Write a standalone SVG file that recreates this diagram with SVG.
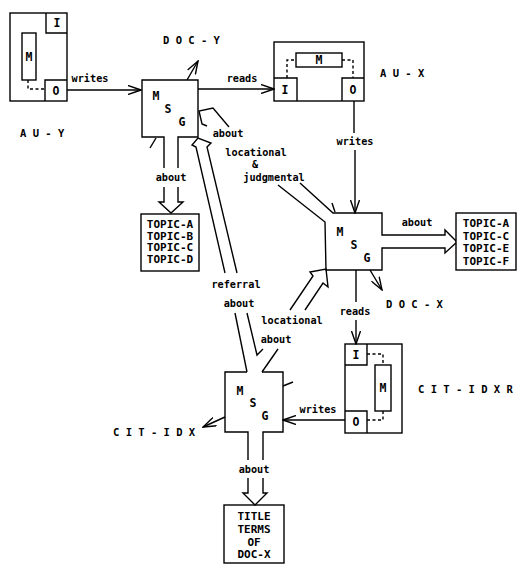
<svg xmlns="http://www.w3.org/2000/svg" width="524" height="572" viewBox="0 0 524 572">
<style>
.ln{fill:none;stroke:#000;stroke-width:1.4;stroke-linejoin:miter}
.ds{fill:none;stroke:#000;stroke-width:1.4;stroke-dasharray:3,2.5}
.bx{fill:#fff;stroke:#000;stroke-width:1.4}
text{font-family:"DejaVu Sans Mono","Liberation Mono",monospace;font-weight:bold;fill:#000}
.lb{font-size:10.2px;text-anchor:middle}
.sp{font-size:10.5px}
.tp{font-size:11px;text-anchor:middle}
.msg{font-size:11.5px;text-anchor:middle}
</style>
<defs>
<marker id="ah" markerWidth="14" markerHeight="10" refX="13" refY="5" orient="auto" markerUnits="userSpaceOnUse">
<path d="M0,0.5 L13,5 L0,9.5" fill="none" stroke="#000" stroke-width="1.4"/>
</marker>
</defs>

<g id="AU-Y">
<rect class="bx" x="10" y="13" width="57" height="88"/>
<path class="ln" d="M46,13 V33 H67"/>
<path class="ln" d="M45,101 V80 H67"/>
<rect class="bx" x="22" y="33" width="14" height="47"/>
<path class="ds" d="M28,80 V89 H45"/>
<text class="msg" x="57" y="27">I</text>
<text class="msg" x="56" y="95">O</text>
<text class="msg" x="29" y="61">M</text>
<text class="sp" x="20" y="137">A U - Y</text>
</g>

<g id="AU-X">
<rect class="bx" x="274" y="42" width="90" height="59"/>
<path class="ln" d="M274,78 H297 V101"/>
<path class="ln" d="M364,78 H342 V101"/>
<rect class="bx" x="296" y="53" width="46" height="14"/>
<path class="ds" d="M287,78 V60 H296"/>
<path class="ds" d="M342,60 H353 V78"/>
<text class="msg" x="285" y="94">I</text>
<text class="msg" x="353" y="94">O</text>
<text class="msg" x="319" y="64">M</text>
<text class="sp" x="380" y="77">A U - X</text>
</g>

<g id="CIT-IDXR">
<rect class="bx" x="345" y="344" width="57" height="89"/>
<path class="ln" d="M345,365 H367 V344"/>
<path class="ln" d="M345,411 H367 V433"/>
<rect class="bx" x="375" y="365" width="16" height="46"/>
<path class="ds" d="M367,354 H383 V365"/>
<path class="ds" d="M367,420 H383 V411"/>
<text class="msg" x="356" y="359">I</text>
<text class="msg" x="356" y="426">O</text>
<text class="msg" x="383" y="392">M</text>
<text class="sp" x="418" y="393">C I T - I D X R</text>
</g>

<g id="MSG-Y">
<path class="ln" d="M164,168 V137 H142 V80 H198 V137 H178 V168"/>
<text class="msg" x="156" y="100">M</text>
<text class="msg" x="168" y="113">S</text>
<text class="msg" x="182" y="126">G</text>
<text class="sp" x="163" y="44">D O C - Y</text>
</g>

<g id="TOPIC-ABCD">
<rect class="bx" x="141" y="214" width="58" height="57"/>
<text class="tp" x="170" y="228">TOPIC-A</text>
<text class="tp" x="170" y="239.5">TOPIC-B</text>
<text class="tp" x="170" y="251">TOPIC-C</text>
<text class="tp" x="170" y="262.5">TOPIC-D</text>
</g>

<g id="MSG-X">
<path class="ln" d="M300,183 L333,213 H382 V235 H445 V230 L457,242 L445,253 V248 H382 V270 H326 L325,222 L278,185"/>
<text class="msg" x="340" y="236">M</text>
<text class="msg" x="354" y="249">S</text>
<text class="msg" x="367" y="262">G</text>
<text class="sp" x="386" y="308">D O C - X</text>
</g>

<g id="TOPIC-ACEF">
<rect class="bx" x="456" y="213" width="60" height="57"/>
<text class="tp" x="486" y="227">TOPIC-A</text>
<text class="tp" x="486" y="239.7">TOPIC-C</text>
<text class="tp" x="486" y="252.3">TOPIC-E</text>
<text class="tp" x="486" y="265">TOPIC-F</text>
</g>

<g id="MSG-CIT-IDX">
<path class="ln" d="M247,372 H225 V432 H248 V460"/>
<path class="ln" d="M263,460 V432 H283 V372 H262"/>
<text class="msg" x="240" y="395">M</text>
<text class="msg" x="253" y="407">S</text>
<text class="msg" x="265" y="420">G</text>
<text class="sp" x="113" y="436">C I T - I D X</text>
</g>

<g id="TITLE-TERMS">
<rect class="bx" x="224" y="505" width="60" height="58"/>
<text class="tp" x="254" y="520">TITLE</text>
<text class="tp" x="254" y="533">TERMS</text>
<text class="tp" x="254" y="546">OF</text>
<text class="tp" x="254" y="558">DOC-X</text>
</g>

<g id="connectors">
<!-- AU-Y writes MSG-Y -->
<line class="ln" x1="67" y1="90" x2="141" y2="90" marker-end="url(#ah)"/>
<text class="lb" x="90" y="82">writes</text>
<!-- MSG-Y reads AU-X -->
<line class="ln" x1="198" y1="89" x2="274" y2="89" marker-end="url(#ah)"/>
<text class="lb" x="242" y="82">reads</text>
<!-- DOC-Y -->
<line class="ln" x1="187" y1="80" x2="198" y2="61" marker-end="url(#ah)"/>
<!-- tick MSG-Y -->
<line class="ln" x1="156" y1="138" x2="150" y2="148"/>
<!-- about -> TOPIC-ABCD -->
<text class="lb" x="171" y="181">about</text>
<path class="ln" d="M164,187 V202 H159 L171,213 L183,202 H178 V187"/>
<!-- AU-X writes MSG-X -->
<line class="ln" x1="354" y1="101" x2="354" y2="133"/>
<text class="lb" x="355" y="145">writes</text>
<line class="ln" x1="355" y1="150" x2="355" y2="213" marker-end="url(#ah)"/>
<!-- locational & judgmental about -> MSG-Y -->
<path class="ln" d="M229,127 L213,108 L199,111 L202,124 L207,126"/>
<text class="lb" x="228" y="137">about</text>
<text class="lb" x="256" y="156">locational</text>
<text class="lb" x="255" y="168">&amp;</text>
<text class="lb" x="274" y="181">judgmental</text>
<!-- tick MSG-X top -->
<line class="ln" x1="332" y1="203" x2="335" y2="212"/>
<!-- MSG-X about -> TOPIC-ACEF label -->
<text class="lb" x="417" y="226">about</text>
<!-- DOC-X -->
<line class="ln" x1="370" y1="270" x2="382" y2="290" marker-end="url(#ah)"/>
<!-- MSG-X reads CIT-IDXR -->
<line class="ln" x1="356" y1="270" x2="356" y2="302"/>
<text class="lb" x="355" y="315">reads</text>
<line class="ln" x1="356" y1="320" x2="356" y2="344" marker-end="url(#ah)"/>
<!-- CIT-IDXR writes MSG-CIT-IDX -->
<line class="ln" x1="345" y1="420" x2="283" y2="420" marker-end="url(#ah)"/>
<text class="lb" x="318" y="413">writes</text>
<!-- CIT-IDX -->
<line class="ln" x1="225" y1="417" x2="203" y2="427" marker-end="url(#ah)"/>
<!-- tick MSG-CIT-IDX -->
<line class="ln" x1="283" y1="386" x2="293" y2="382"/>
<!-- referral about -> MSG-Y -->
<path class="ln" d="M225,273 L196,147 L192,145 L198,138 L211,143 L207,147 L237,273"/>
<text class="lb" x="236" y="288">referral</text>
<text class="lb" x="239" y="307">about</text>
<path class="ln" d="M235,313 L247,372"/>
<path class="ln" d="M247,313 L257,355 L263,349"/>
<!-- locational about -> MSG-X -->
<path class="ln" d="M290,310 L313,276 L310,272 L326,269 L328,287 L323,283 L305,310"/>
<text class="lb" x="292" y="324">locational</text>
<text class="lb" x="276" y="343">about</text>
<path class="ln" d="M278,349 L262,372"/>
<!-- about -> TITLE TERMS -->
<text class="lb" x="254" y="473">about</text>
<path class="ln" d="M248,478 V493 H243 L255,505 L267,493 H263 V478"/>
</g>
</svg>
